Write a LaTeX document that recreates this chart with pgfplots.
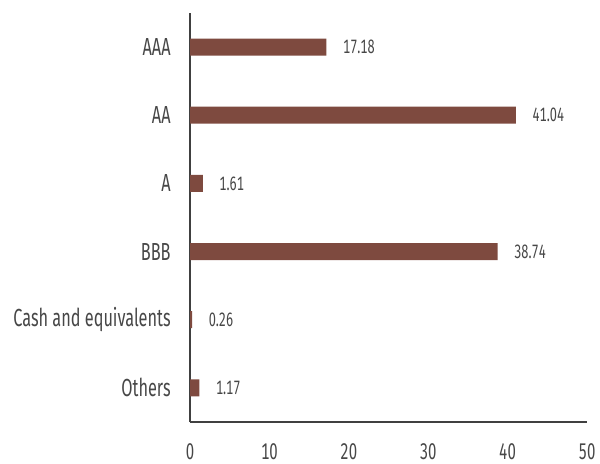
\documentclass[border=0pt]{standalone}
\usepackage{fontspec}
\setmainfont[FakeStretch=0.66,Numbers=Monospaced]{Fira Sans}
\usepackage{pgfplots}
\pgfplotsset{compat=1.18}
\definecolor{barc}{HTML}{7E4A3F}
\definecolor{txt}{HTML}{474747}
\begin{document}
\begin{tikzpicture}
\begin{axis}[
  scale only axis,
  width=297.75pt, height=306.75pt,
  xmin=0, xmax=50,
  ymin=-0.5, ymax=5.5,
  xtick={0,10,20,30,40,50},
  ytick={0,1,2,3,4,5},
  yticklabels={Others,Cash and equivalents,BBB,A,AA,AAA},
  axis x line*=bottom, axis y line*=left,
  axis line style={-, draw=black!75, line width=0.9pt},
  major tick length=0pt,
  yticklabel style={font=\fontsize{18.5}{18.5}\selectfont, text=txt, xshift=-11pt},
  xticklabel style={font=\fontsize{17}{17}\selectfont, text=txt, yshift=-12.5pt},
  /pgf/number format/assume math mode=true,
  xbar, bar width=12.75pt,
  bar shift=0pt,
  nodes near coords,
  nodes near coords style={font=\fontsize{14.5}{14.5}\selectfont, text=txt, anchor=west, xshift=9pt, /pgf/number format/.cd, fixed, precision=2, fixed zerofill},
  enlarge y limits=false,
]
\addplot[fill=barc, draw=none] coordinates {
  (1.17,0) (0.26,1) (38.74,2) (1.61,3) (41.04,4) (17.18,5)
};
\end{axis}
\path[use as bounding box] ([xshift=-142.5pt,yshift=-27.75pt]current axis.south west) rectangle ([xshift=9.75pt,yshift=9.75pt]current axis.north east);
\end{tikzpicture}
\end{document}
